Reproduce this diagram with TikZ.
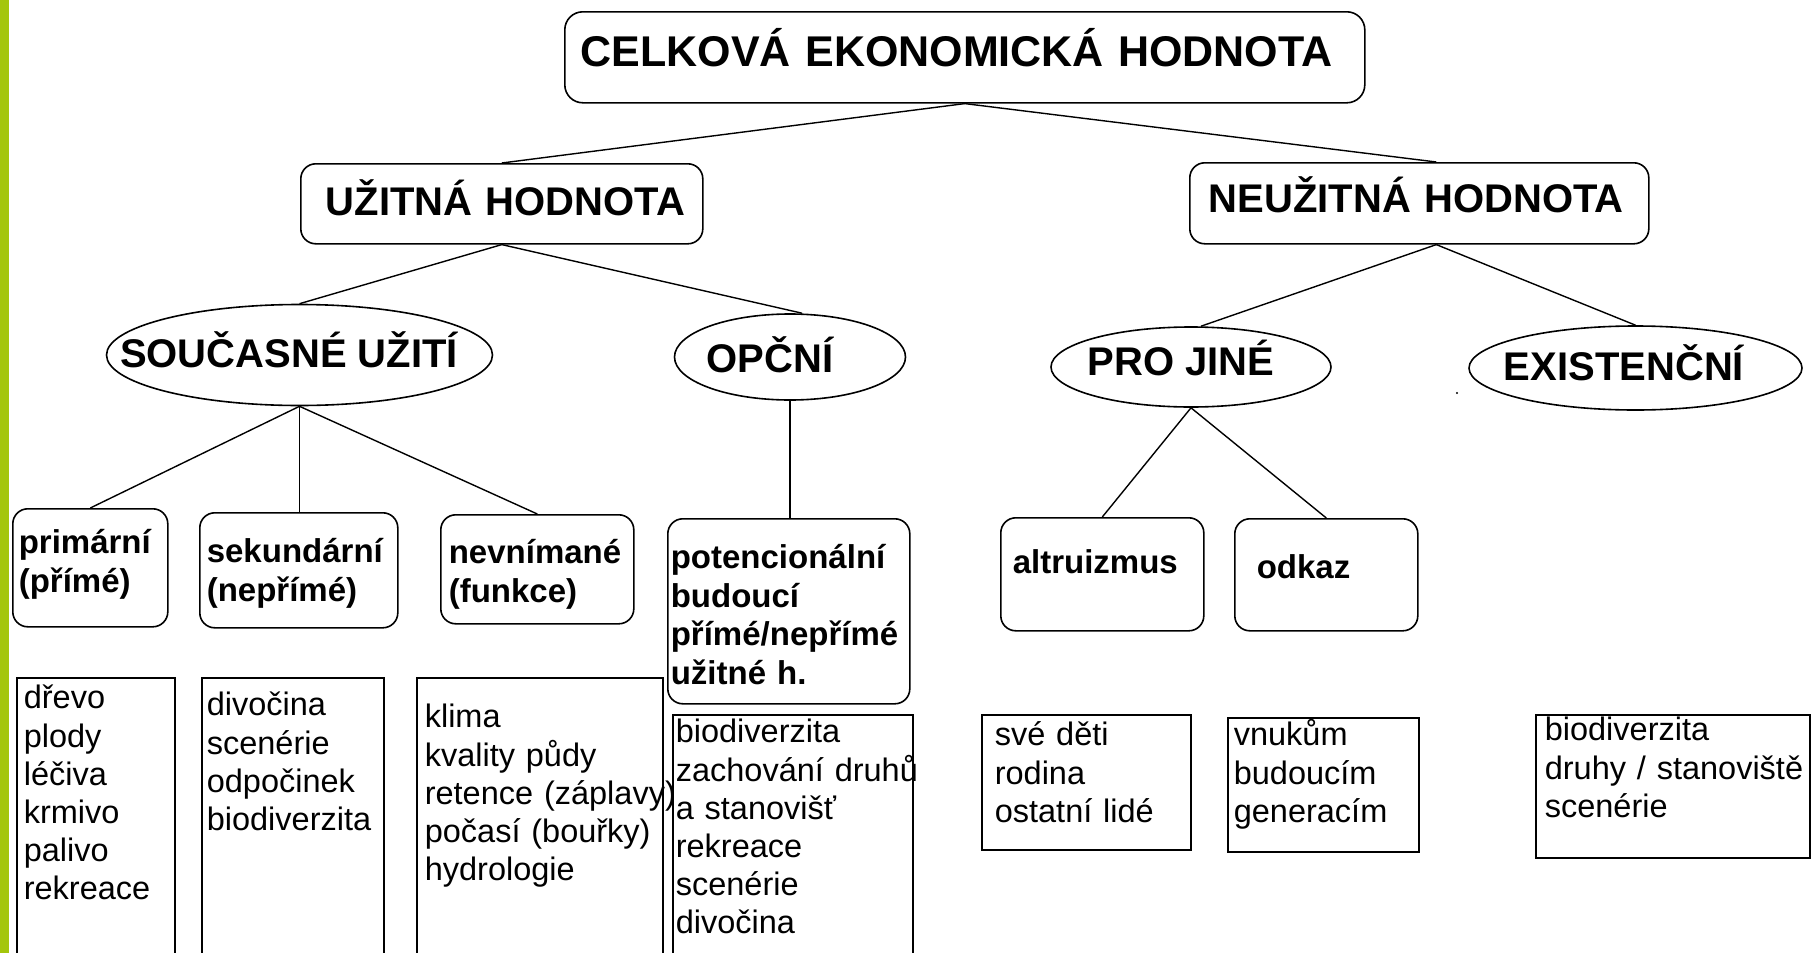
\documentclass[tikz,border=0pt]{standalone}
\usepackage{fontspec}
\setmainfont{Liberation Sans}
\usetikzlibrary{shapes.geometric}
\definecolor{barg}{RGB}{164,198,12}
% #1 name, #2 style, #3 x1, #4 y1, #5 x2, #6 y2, #7 text left, #8 first baseline, #9 text
\newcommand\mkbox[9]{%
  \pgfmathsetmacro\bxs{#7-#3}%
  \pgfmathsetmacro\btw{#5-#3-2*(#7-#3)}%
  \pgfmathsetmacro\bth{#8-#4}%
  \pgfmathsetmacro\btd{#6-#8}%
  \node[#2, anchor=north west, inner xsep=\bxs pt, inner ysep=0pt,
        text width=\btw pt, text height=\bth pt, text depth=\btd pt] (#1) at (#3,#4) {#9};%
}
\begin{document}
\begin{tikzpicture}[x=1pt,y=-1pt,
  rbox/.style={draw, line width=1.6pt, rounded corners=15pt, align=left,
    font=\fontsize{33}{38.5}\selectfont\bfseries},
  tbox/.style={rbox, font=\fontsize{40}{46}\selectfont\bfseries},
  hbox/.style={rbox, rounded corners=18pt, font=\fontsize{43}{50}\selectfont\bfseries},
  lbox/.style={draw, line width=1.6pt, align=left, font=\fontsize{32.5}{38.2}\selectfont},
  ell/.style={draw, ellipse, line width=1.6pt, inner sep=0pt, text depth=0pt,
    font=\fontsize{40}{46}\selectfont\bfseries},
  conn/.style={line width=1.4pt}]
\useasboundingbox (0,0) rectangle (1813,953);
\clip (0,0) rectangle (1813,953);
\fill[white] (0,0) rectangle (1813,953);
\fill[barg] (0,0) rectangle (9,953);

% boxes
\mkbox{top}{hbox}{564}{11}{1364}{102}{580}{66}{\mbox{CELKOVÁ EKONOMICKÁ HODNOTA}}
\mkbox{uzit}{tbox}{300}{163}{702}{243}{325}{215}{\mbox{UŽITNÁ HODNOTA}}
\mkbox{neu}{tbox}{1189}{162}{1648}{243}{1208}{212}{\mbox{NEUŽITNÁ HODNOTA}}
\mkbox{pri}{rbox}{12}{508}{167}{626}{18}{553}{primární\\(přímé)}
\mkbox{sek}{rbox}{199}{512}{397}{627}{206}{562}{sekundární\\(nepřímé)}
\mkbox{nev}{rbox}{440}{514}{633}{623}{448}{563}{nevnímané\\(funkce)}
\mkbox{pot}{rbox}{667}{518}{909}{703}{670}{568}{potencionální\\budoucí\\přímé/nepřímé\\\mbox{užitné h.}}
\mkbox{alt}{rbox}{1000}{517}{1203}{630}{1012}{573}{altruizmus}
\mkbox{odk}{rbox}{1234}{518}{1417}{630}{1256}{578}{odkaz}

% lists
\mkbox{la}{lbox}{16}{677}{174}{975}{23}{708}{dřevo\\plody\\léčiva\\krmivo\\palivo\\rekreace}
\mkbox{lb}{lbox}{201}{677}{383}{975}{206}{715}{divočina\\scenérie\\odpočinek\\biodiverzita}
\mkbox{lc}{lbox}{416}{677}{662}{975}{424}{727}{klima\\\mbox{kvality půdy}\\\mbox{retence (záplavy)}\\\mbox{počasí (bouřky)}\\hydrologie}
\mkbox{ld}{lbox}{672}{714}{912}{975}{675}{742}{biodiverzita\\\mbox{zachování druhů}\\\mbox{a stanovišť}\\rekreace\\scenérie\\divočina}
\mkbox{le}{lbox}{981}{714}{1190}{849}{994}{745}{\mbox{své děti}\\rodina\\\mbox{ostatní lidé}}
\mkbox{lf}{lbox}{1227}{717}{1418}{851}{1233}{745}{vnukům\\budoucím\\generacím}
\mkbox{lg}{lbox}{1535}{714}{1809}{857}{1544}{740}{biodiverzita\\\mbox{druhy / stanoviště}\\scenérie}

% ellipses
\node[ell, minimum width=386pt, minimum height=101pt, text height=24pt] (sou) at (299.5,355) {\makebox[0pt]{\kern-21pt SOUČASNÉ UŽITÍ}};
\node[ell, minimum width=231pt, minimum height=86pt, text height=30pt] (opc) at (790,357) {\makebox[0pt]{\kern-40pt OPČNÍ}};
\node[ell, minimum width=280pt, minimum height=80pt, text height=16pt] (pro) at (1191,367) {\makebox[0pt]{\kern-20pt PRO JINÉ}};
\node[ell, minimum width=333pt, minimum height=84pt, text height=24pt] (exi) at (1635.5,368) {\makebox[0pt]{\kern-23pt EXISTENČNÍ}};

% connectors
\draw[conn] (top.south) -- (uzit.north);
\draw[conn] (top.south) -- ([xshift=17pt]neu.north);
\draw[conn] (uzit.south) -- (sou.north);
\draw[conn] (uzit.south) -- ([xshift=12pt]opc.north);
\draw[conn] ([xshift=17pt]neu.south) -- ([xshift=10pt]pro.north);
\draw[conn] ([xshift=17pt]neu.south) -- (exi.north);
\draw[conn] (sou.south) -- (pri.north);
\draw[conn] (sou.south) -- (sou.south |- sek.north);
\draw[conn] (sou.south) -- (nev.north);
\draw[conn] (opc.south) -- (opc.south |- pot.north);
\draw[conn] (pro.south) -- (alt.north);
\draw[conn] (pro.south) -- (odk.north);

\fill (1457,393) circle (1.2pt);
\end{tikzpicture}
\end{document}
